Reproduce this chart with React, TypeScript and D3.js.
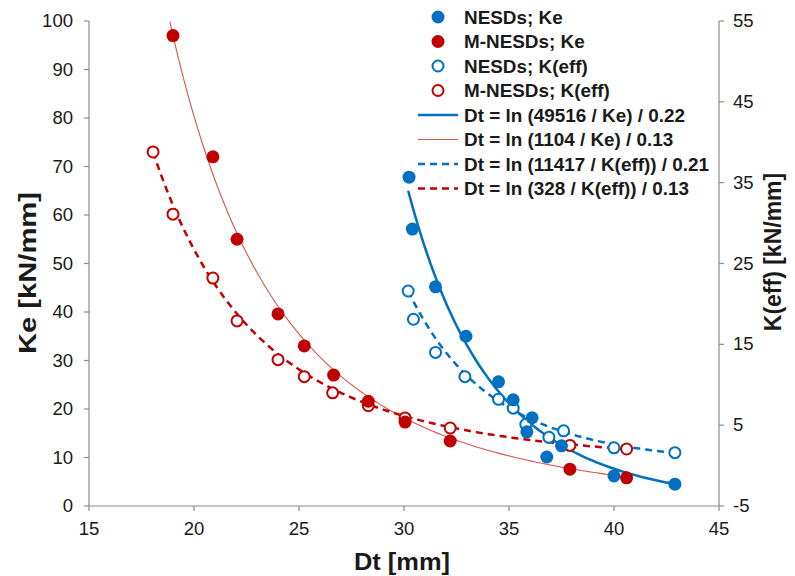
import React from "react";
import * as d3 from "d3";

// ---- data ----
const dtNesdKe = [30.24, 30.4, 31.5, 32.95, 34.5, 35.2, 36.1, 35.85, 36.8, 37.5, 40.0, 42.9];
const keNesd = [67.8, 57.1, 45.2, 35.0, 25.6, 21.9, 18.2, 15.3, 10.1, 12.4, 6.2, 4.5];

const dtMNesdKe = [19.0, 20.9, 22.05, 24.0, 25.25, 26.65, 28.3, 30.05, 32.2, 37.9, 40.6];
const keMNesd = [97, 72, 55, 39.6, 33, 27, 21.6, 17.3, 13.4, 7.6, 5.8];

const dtNesdKeff = [30.2, 30.45, 31.5, 32.9, 34.5, 35.2, 35.8, 36.9, 37.6, 40.0, 42.9];
const keffNesd = [21.6, 18.1, 14.0, 11.0, 8.2, 7.1, 5.1, 3.5, 4.3, 2.2, 1.6];

const dtMNesdKeff = [18.05, 19.0, 20.9, 22.05, 24.0, 25.25, 26.6, 28.3, 30.05, 32.2, 37.9, 40.6];
const keffMNesd = [38.8, 31.1, 23.2, 17.9, 13.1, 11.0, 9.0, 7.4, 5.9, 4.65, 2.5, 2.05];

// trend curves: [dtStart, dtEnd, anchorDt, anchorValue, exponent]
const trendKeNesd = [30.2, 42.9, 30.2, 65, 7.6];
const trendKeMNesd = [18.85, 40.6, 19.0, 97, 3.667];
const trendKeffNesd = [30.2, 42.9, 30.2, 21.6, 7.5];
const trendKeffMNesd = [18.05, 40.6, 18.05, 38.8, 3.63];

const xTicks = [15, 20, 25, 30, 35, 40, 45];
const yLeftTicks = [0, 10, 20, 30, 40, 50, 60, 70, 80, 90, 100];
const yRightTicks = [-5, 5, 15, 25, 35, 45, 55];

const legendLabels = [
  "NESDs; Ke",
  "M-NESDs; Ke",
  "NESDs; K(eff)",
  "M-NESDs; K(eff)",
  "Dt = ln (49516 / Ke) / 0.22",
  "Dt = ln (1104 / Ke) / 0.13",
  "Dt = ln (11417 / K(eff)) / 0.21",
  "Dt = ln (328 / K(eff)) / 0.13",
];

const BLUE = "#0070C0";
const RED = "#C00000";
const RED_THIN = "#D9534F";
const AXIS = "#8c8c8c";
const TXT = "#1a1a1a";
const FONT = "'Liberation Sans', Arial, Helvetica, sans-serif";

export default function App() {
  const x = d3.scaleLinear().domain([15, 45]).range([89, 719]);
  const yL = d3.scaleLinear().domain([0, 100]).range([506, 21]);
  const yR = d3.scaleLinear().domain([-5, 55]).range([506, 21]);

  const trendPts = (t: number[]) => {
    const [a, b, x0, y0, n] = t;
    return d3.range(0, 121).map((i) => {
      const dt = a + ((b - a) * i) / 120;
      return [dt, y0 * Math.pow(dt / x0, -n)] as [number, number];
    });
  };
  const lineL = d3.line<[number, number]>().x((d) => x(d[0])).y((d) => yL(d[1]));
  const lineR = d3.line<[number, number]>().x((d) => x(d[0])).y((d) => yR(d[1]));

  const legendY0 = 17;
  const legendDy = 24.5;
  const legendMarkX = 438;
  const legendTextX = 464;
  const SX = 1.06;

  return (
    <svg
      width={795}
      height={576}
      style={{ position: "absolute", left: 0, top: 0, background: "#fff" }}
      fontFamily={FONT}
    >
      <rect x={0} y={0} width={795} height={576} fill="#fff" />
      {/* axes */}
      <line x1={x(15)} x2={x(45)} y1={506} y2={506} stroke={AXIS} strokeWidth={1.2} />
      <line x1={x(15)} x2={x(15)} y1={yL(100)} y2={yL(0)} stroke={AXIS} strokeWidth={1.2} />
      <line x1={x(45)} x2={x(45)} y1={yR(55)} y2={yR(-5)} stroke={AXIS} strokeWidth={1.2} />
      {xTicks.map((t) => (
        <g key={"xt" + t}>
          <line x1={x(t)} x2={x(t)} y1={506} y2={511} stroke={AXIS} strokeWidth={1.2} />
          <text
            transform={`translate(${x(t)},535) scale(${SX},1)`}
            textAnchor="middle"
            fontSize={17.5}
            fill={TXT}
          >
            {t}
          </text>
        </g>
      ))}
      {yLeftTicks.map((t) => (
        <g key={"yl" + t}>
          <line x1={84} x2={89} y1={yL(t)} y2={yL(t)} stroke={AXIS} strokeWidth={1.2} />
          <text
            transform={`translate(73,${yL(t) + 6}) scale(${SX},1)`}
            textAnchor="end"
            fontSize={17.5}
            fill={TXT}
          >
            {t}
          </text>
        </g>
      ))}
      {yRightTicks.map((t) => (
        <g key={"yr" + t}>
          <line x1={719} x2={724} y1={yR(t)} y2={yR(t)} stroke={AXIS} strokeWidth={1.2} />
          <text
            transform={`translate(733,${yR(t) + 6}) scale(${SX},1)`}
            textAnchor="start"
            fontSize={17.5}
            fill={TXT}
          >
            {t}
          </text>
        </g>
      ))}
      {/* axis titles */}
      <text
        transform={`translate(402,570) scale(${SX},1)`}
        textAnchor="middle"
        fontSize={24}
        fontWeight="bold"
        fill={TXT}
      >
        Dt [mm]
      </text>
      <text
        transform="translate(36,273) rotate(-90)"
        textAnchor="middle"
        fontSize={24}
        fontWeight="bold"
        fill={TXT}
        textLength={162}
        lengthAdjust="spacingAndGlyphs"
      >
        Ke [kN/mm]
      </text>
      <text
        transform="translate(781,252) rotate(-90)"
        textAnchor="middle"
        fontSize={23}
        fontWeight="bold"
        fill={TXT}
      >
        K(eff) [kN/mm]
      </text>

      {/* trend lines */}
      <path d={lineL(trendPts(trendKeMNesd)) || ""} fill="none" stroke={RED_THIN} strokeWidth={1.1} />
      <path d={lineR(trendPts(trendKeffMNesd)) || ""} fill="none" stroke={RED} strokeWidth={2.5} strokeDasharray="7,5" />
      <path d={lineR(trendPts(trendKeffNesd)) || ""} fill="none" stroke={BLUE} strokeWidth={2.5} strokeDasharray="7,5" />
      <path d={lineL(trendPts(trendKeNesd)) || ""} fill="none" stroke={BLUE} strokeWidth={2.5} />

      {/* points */}
      {dtMNesdKeff.map((d, i) => (
        <circle key={"mk" + i} cx={x(d)} cy={yR(keffMNesd[i])} r={5.5} fill="#fff" stroke={RED} strokeWidth={2} />
      ))}
      {dtNesdKeff.map((d, i) => (
        <circle key={"nk" + i} cx={x(d)} cy={yR(keffNesd[i])} r={5.5} fill="#fff" stroke={BLUE} strokeWidth={2} />
      ))}
      {dtNesdKe.map((d, i) => (
        <circle key={"ne" + i} cx={x(d)} cy={yL(keNesd[i])} r={6.5} fill={BLUE} />
      ))}
      {dtMNesdKe.map((d, i) => (
        <circle key={"me" + i} cx={x(d)} cy={yL(keMNesd[i])} r={6.5} fill={RED} />
      ))}

      {/* legend */}
      {legendLabels.map((lab, i) => {
        const cy = legendY0 + i * legendDy;
        let mark: React.ReactNode = null;
        if (i === 0) mark = <circle cx={legendMarkX} cy={cy} r={6.5} fill={BLUE} />;
        else if (i === 1) mark = <circle cx={legendMarkX} cy={cy} r={6.5} fill={RED} />;
        else if (i === 2)
          mark = <circle cx={legendMarkX} cy={cy} r={5.5} fill="#fff" stroke={BLUE} strokeWidth={2} />;
        else if (i === 3)
          mark = <circle cx={legendMarkX} cy={cy} r={5.5} fill="#fff" stroke={RED} strokeWidth={2} />;
        else if (i === 4)
          mark = <line x1={418} x2={458} y1={cy} y2={cy} stroke={BLUE} strokeWidth={2.5} />;
        else if (i === 5)
          mark = <line x1={418} x2={458} y1={cy} y2={cy} stroke={RED_THIN} strokeWidth={1.1} />;
        else if (i === 6)
          mark = <line x1={418} x2={458} y1={cy} y2={cy} stroke={BLUE} strokeWidth={2.5} strokeDasharray="7,5" />;
        else
          mark = <line x1={418} x2={458} y1={cy} y2={cy} stroke={RED} strokeWidth={2.5} strokeDasharray="7,5" />;
        return (
          <g key={"lg" + i}>
            {mark}
            <text
              transform={`translate(${legendTextX},${cy + 6.5}) scale(1.05,1)`}
              fontSize={18}
              fontWeight="bold"
              fill={TXT}
            >
              {lab}
            </text>
          </g>
        );
      })}
    </svg>
  );
}
